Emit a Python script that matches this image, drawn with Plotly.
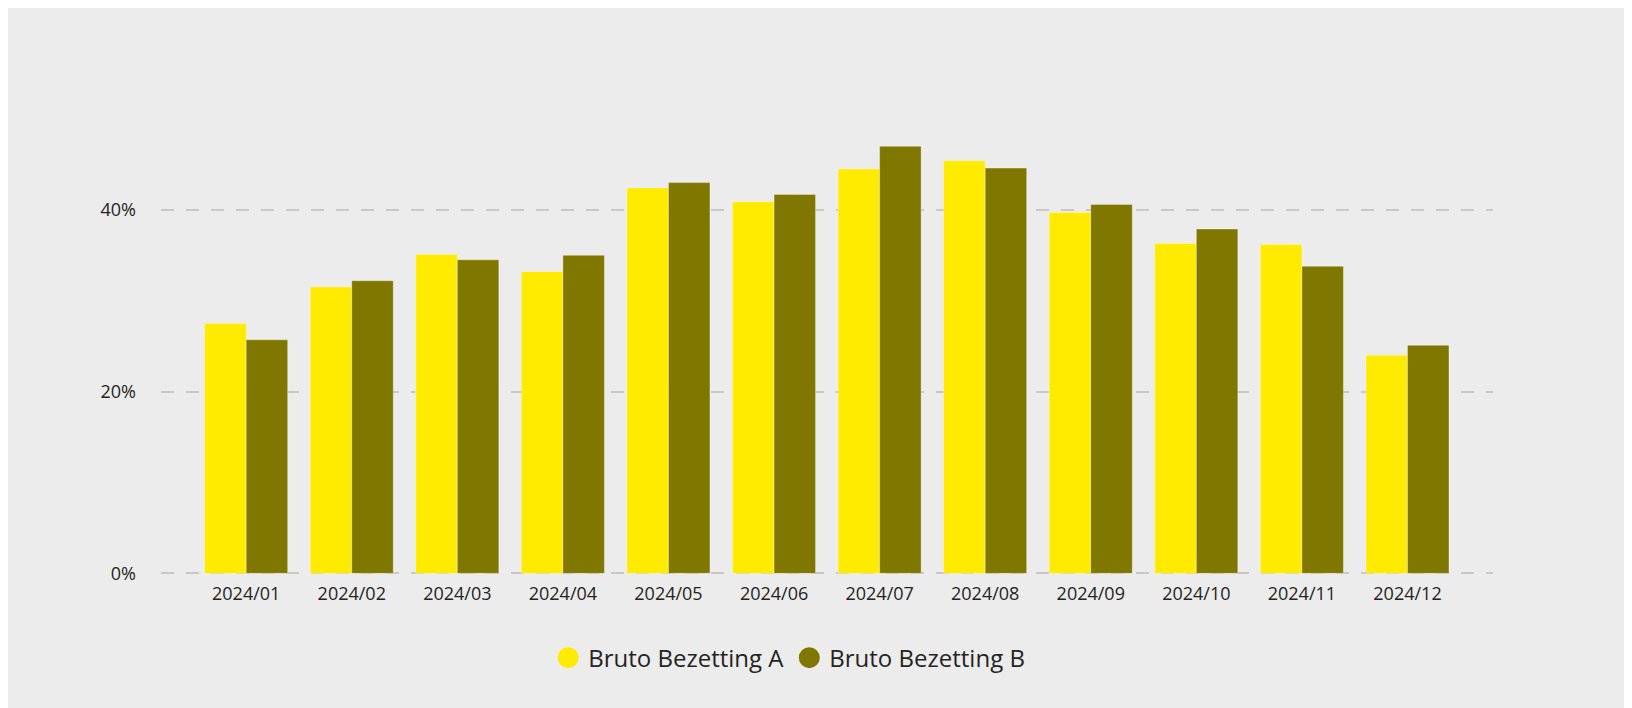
import plotly.graph_objects as go

months = ["2024/01", "2024/02", "2024/03", "2024/04", "2024/05", "2024/06",
          "2024/07", "2024/08", "2024/09", "2024/10", "2024/11", "2024/12"]
bruto_a = [0.275, 0.315, 0.351, 0.332, 0.424, 0.409, 0.445, 0.454, 0.397, 0.363, 0.362, 0.240]
bruto_b = [0.257, 0.322, 0.345, 0.350, 0.430, 0.417, 0.470, 0.446, 0.406, 0.379, 0.338, 0.251]
name_a = "Bruto Bezetting A"
name_b = "Bruto Bezetting B"
color_a = "#FFEB00"
color_b = "#807700"

fig = go.Figure()
fig.add_trace(go.Bar(x=months, y=bruto_a, name=name_a, marker_color=color_a,
                     marker_line=dict(width=1, color="rgba(255,255,255,0.25)"),
                     showlegend=False))
fig.add_trace(go.Bar(x=months, y=bruto_b, name=name_b, marker_color=color_b,
                     marker_line=dict(width=1, color="rgba(255,255,255,0.35)"),
                     showlegend=False))
# legend entries with round markers
for nm, c in [(name_a, color_a), (name_b, color_b)]:
    fig.add_trace(go.Scatter(x=[None], y=[None], mode="markers", name=nm,
                             marker=dict(symbol="circle", size=16, color=c,
                                         line=dict(width=5, color=c))))

L, R = 152.7, 1485
T = 111.3
y_lo, y_hi = -0.004, 0.5
px_per_unit = 908.2
B = T + (y_hi - y_lo) * px_per_unit

fig.update_layout(
    width=1632, height=708,
    margin=dict(l=L, r=1632 - R, t=T, b=708 - B, autoexpand=False),
    paper_bgcolor="#ECECEC",
    plot_bgcolor="rgba(0,0,0,0)",
    barmode="group",
    bargap=0.214,
    bargroupgap=0,
    font=dict(family="Open Sans, DejaVu Sans, sans-serif", color="#252423"),
    legend=dict(orientation="h", x=0.4716, xanchor="center", y=-0.177, yanchor="middle",
                font=dict(size=24, color="#252423"),
                bgcolor="rgba(0,0,0,0)", tracegroupgap=0),
    xaxis=dict(range=[-0.807, 11.81], showgrid=False, zeroline=False, showline=False,
               ticks="", tickfont=dict(size=18), ticklabelstandoff=4),
    yaxis=dict(range=[y_lo, y_hi], tickvals=[0, 0.2, 0.4], tickformat=".0%", showgrid=True,
               gridcolor="#C8C8C8", gridwidth=2, griddash="13px,12px",
               zeroline=False, showline=False, ticks="", tickfont=dict(size=18),
               ticklabelstandoff=24),
)

fig.write_html("out.html")
